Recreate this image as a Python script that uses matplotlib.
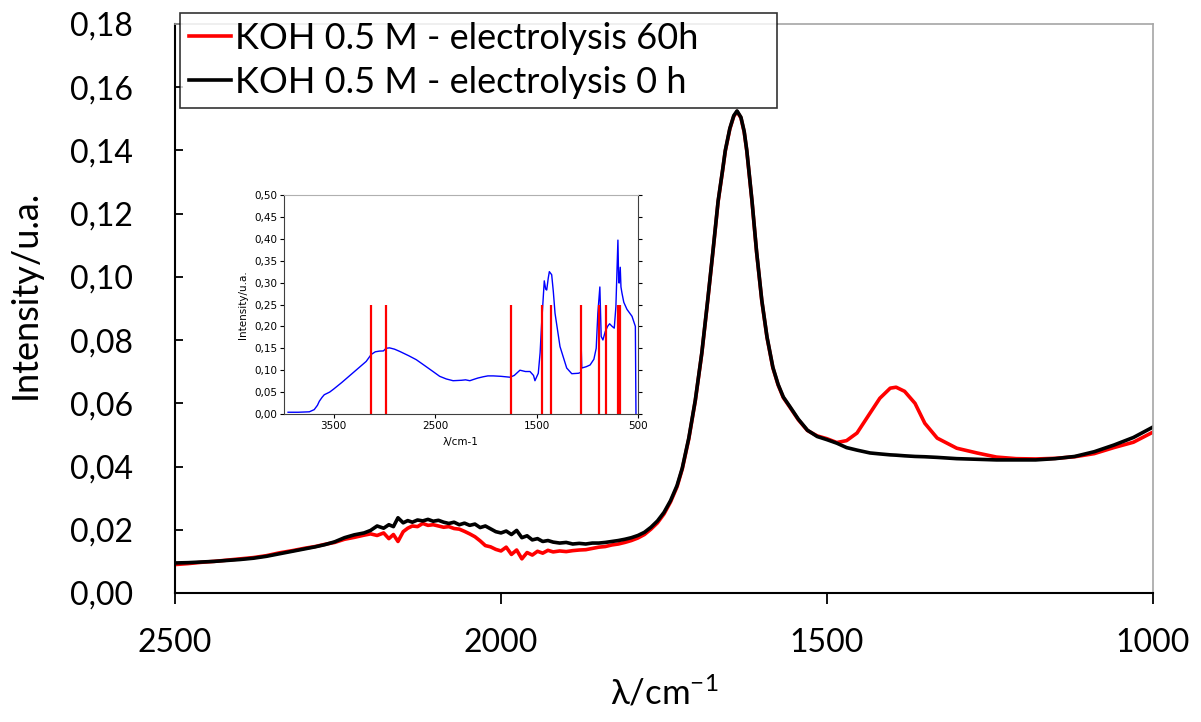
import matplotlib
matplotlib.use("Agg")
import matplotlib.pyplot as plt
from matplotlib.ticker import FuncFormatter

plt.rcParams['font.family'] = ['Lato', 'DejaVu Sans']
plt.rcParams['mathtext.fontset'] = 'custom'
plt.rcParams['mathtext.rm'] = 'Lato'
plt.rcParams['mathtext.default'] = 'regular'

# Raman spectra, KOH 0.5 M before / after electrolysis
wavenumber = [2500, 2480, 2460, 2440, 2420, 2400, 2380, 2360, 2340, 2320,
              2300, 2285, 2270, 2255, 2240, 2225, 2210, 2200, 2190, 2180,
              2172, 2165, 2158, 2150, 2143, 2136, 2128, 2120, 2112, 2104,
              2096, 2088, 2080, 2072, 2064, 2056, 2048, 2040, 2032, 2024,
              2016, 2008, 2000, 1992, 1984, 1976, 1968, 1960, 1952, 1944,
              1936, 1928, 1920, 1910, 1900, 1890, 1880, 1870, 1860, 1850,
              1840, 1830, 1820, 1810, 1800, 1790, 1780, 1770, 1760, 1750,
              1740, 1730, 1722, 1712, 1702, 1692, 1683, 1675, 1667, 1660,
              1656, 1649, 1643, 1638, 1632, 1627, 1623, 1615, 1608, 1600,
              1592, 1583, 1575, 1567, 1557, 1544, 1530, 1515, 1500, 1485,
              1470, 1454, 1434, 1419, 1403, 1394, 1381, 1365, 1350, 1331,
              1301, 1270, 1240, 1210, 1180, 1150, 1120, 1090, 1060, 1030,
              1000]

koh_0h = [0.0095, 0.0096, 0.0098, 0.0100, 0.0103, 0.0106, 0.0110, 0.0116, 0.0124, 0.0132,
          0.0140, 0.0146, 0.0153, 0.0162, 0.0175, 0.0184, 0.0190, 0.0198, 0.0212, 0.0205,
          0.0216, 0.0210, 0.0238, 0.0222, 0.0229, 0.0224, 0.0231, 0.0228, 0.0233, 0.0227,
          0.0230, 0.0224, 0.0220, 0.0224, 0.0216, 0.0221, 0.0214, 0.0218, 0.0207, 0.0212,
          0.0203, 0.0194, 0.0190, 0.0196, 0.0185, 0.0198, 0.0175, 0.0181, 0.0168, 0.0172,
          0.0163, 0.0166, 0.0161, 0.0158, 0.0160, 0.0155, 0.0157, 0.0155, 0.0158, 0.0158,
          0.0160, 0.0163, 0.0166, 0.0170, 0.0175, 0.0182, 0.0192, 0.0208, 0.0228, 0.0255,
          0.0292, 0.0340, 0.0395, 0.0490, 0.0610, 0.0760, 0.0926, 0.1080, 0.1240, 0.1340,
          0.1400, 0.1470, 0.1510, 0.1525, 0.1505, 0.1460, 0.1400, 0.1240, 0.1080, 0.0926,
          0.0810, 0.0714, 0.0660, 0.0620, 0.0590, 0.0550, 0.0515, 0.0495, 0.0485, 0.0474,
          0.0460, 0.0452, 0.0443, 0.0440, 0.0437, 0.0436, 0.0434, 0.0432, 0.0431, 0.0429,
          0.0425, 0.0423, 0.0421, 0.0421, 0.0421, 0.0425, 0.0432, 0.0447, 0.0468, 0.0492,
          0.0525]

koh_60h = [0.0090, 0.0093, 0.0097, 0.0100, 0.0104, 0.0108, 0.0112, 0.0118, 0.0127, 0.0134,
           0.0142, 0.0147, 0.0154, 0.0160, 0.0170, 0.0176, 0.0183, 0.0187, 0.0182, 0.0190,
           0.0172, 0.0185, 0.0163, 0.0194, 0.0205, 0.0212, 0.0210, 0.0220, 0.0214, 0.0216,
           0.0212, 0.0208, 0.0210, 0.0204, 0.0202, 0.0195, 0.0187, 0.0178, 0.0165, 0.0150,
           0.0146, 0.0138, 0.0133, 0.0145, 0.0122, 0.0136, 0.0108, 0.0128, 0.0120, 0.0132,
           0.0126, 0.0135, 0.0130, 0.0133, 0.0131, 0.0134, 0.0136, 0.0137, 0.0141, 0.0145,
           0.0147, 0.0152, 0.0155, 0.0160, 0.0166, 0.0174, 0.0185, 0.0202, 0.0222, 0.0250,
           0.0288, 0.0336, 0.0392, 0.0487, 0.0608, 0.0758, 0.0924, 0.1078, 0.1238, 0.1338,
           0.1398, 0.1468, 0.1508, 0.1523, 0.1503, 0.1458, 0.1398, 0.1238, 0.1078, 0.0924,
           0.0808, 0.0712, 0.0658, 0.0618, 0.0588, 0.0548, 0.0514, 0.0497, 0.0488, 0.0476,
           0.0482, 0.0506, 0.0569, 0.0616, 0.0648, 0.0651, 0.0638, 0.0600, 0.0537, 0.0490,
           0.0458, 0.0443, 0.0430, 0.0425, 0.0424, 0.0426, 0.0431, 0.0441, 0.0460, 0.0477,
           0.0509]

# inset: full reference spectrum and band positions
inset_wn = [3950, 3850, 3740, 3692, 3660, 3642, 3615, 3593, 3540, 3500,
            3420, 3345, 3260, 3180, 3130, 3090, 3049, 3010, 2983, 2950,
            2900, 2850, 2760, 2686, 2600, 2521, 2455, 2390, 2323, 2240,
            2200, 2158, 2120, 2080, 2026, 1980, 1927, 1850, 1763, 1720,
            1664, 1610, 1565, 1530, 1516, 1483, 1465, 1450, 1424, 1410,
            1400, 1385, 1374, 1351, 1335, 1318, 1269, 1203, 1153, 1087,
            1064, 1061, 1054, 1010, 972, 935, 912, 896, 876, 863,
            846, 823, 800, 780, 755, 734, 718, 698, 690, 685,
            675, 668, 658, 640, 609, 559, 526, 520]
inset_int = [0.004, 0.004, 0.005, 0.010, 0.020, 0.029, 0.038, 0.044, 0.050, 0.057,
             0.072, 0.087, 0.104, 0.120, 0.136, 0.142, 0.1436, 0.144, 0.150, 0.151,
             0.148, 0.143, 0.133, 0.124, 0.110, 0.097, 0.086, 0.080, 0.076, 0.077,
             0.078, 0.076, 0.079, 0.082, 0.085, 0.087, 0.087, 0.086, 0.084, 0.088,
             0.100, 0.097, 0.097, 0.088, 0.076, 0.093, 0.140, 0.207, 0.304, 0.285,
             0.283, 0.310, 0.325, 0.318, 0.280, 0.230, 0.154, 0.105, 0.092, 0.093,
             0.095, 0.162, 0.105, 0.108, 0.112, 0.125, 0.150, 0.230, 0.290, 0.177,
             0.169, 0.188, 0.200, 0.206, 0.200, 0.196, 0.245, 0.397, 0.300, 0.299,
             0.335, 0.290, 0.276, 0.255, 0.239, 0.223, 0.200, 0.000]
band_positions = [3131, 2989, 1753, 1450, 1357, 1064, 882, 817, 701, 675]
band_height = 0.25


def comma_fmt(v, pos):
    return f"{v:.2f}".replace(".", ",")


W, H = 1201, 722
fig = plt.figure(figsize=(W / 100, H / 100), dpi=100)
ax = fig.add_axes([175 / W, 1 - 593 / H, 978 / W, 569 / H])

ax.plot(wavenumber, koh_60h, color='#ff0000', lw=2.6, label='KOH 0.5 M - electrolysis 60h')
ax.plot(wavenumber, koh_0h, color='black', lw=2.6, label='KOH 0.5 M - electrolysis 0 h')

ax.set_xlim(2500, 1000)
ax.set_ylim(0, 0.18)
ax.set_xticks([2500, 2000, 1500, 1000])
ax.set_yticks([0, 0.02, 0.04, 0.06, 0.08, 0.10, 0.12, 0.14, 0.16, 0.18])
ax.yaxis.set_major_formatter(FuncFormatter(comma_fmt))
ax.tick_params(axis='y', direction='in', length=6, width=1.3, labelsize=23, pad=30)
ax.tick_params(axis='x', direction='out', length=8, width=1.3, labelsize=23, pad=17)

for side in ('left', 'bottom'):
    ax.spines[side].set_color('black')
    ax.spines[side].set_linewidth(1.5)
for side in ('top', 'right'):
    ax.spines[side].set_color('#a6a6a6')
    ax.spines[side].set_linewidth(1.2)

ax.set_ylabel('Intensity/u.a.', fontsize=26)
ax.yaxis.set_label_coords(-0.136, 0.525)
ax.set_xlabel(r'λ/cm$^{-1}$', fontsize=25)
ax.xaxis.set_label_coords(0.5, -0.145)

leg = ax.legend(loc='upper left', bbox_to_anchor=(180 / W, 1 - 108 / H, 597 / W, 95 / H),
                bbox_transform=fig.transFigure, mode='expand', fontsize=26,
                frameon=True, fancybox=False, handlelength=1.15, handletextpad=0.12,
                borderpad=0.25, labelspacing=0.3, borderaxespad=0)
leg.get_frame().set_edgecolor('black')
leg.get_frame().set_linewidth(1.2)
leg.set_zorder(5)

# inset
ins = fig.add_axes([284 / W, 1 - 414 / H, 354 / W, 219 / H])
ins.plot(inset_wn, inset_int, color='#0000ff', lw=1.0)
ins.vlines(band_positions, 0, band_height, color='#ff0000', lw=1.6)
ins.set_xlim(3990, 500)
ins.set_ylim(0, 0.5)
ins.set_xticks([3500, 2500, 1500, 500])
ins.set_yticks([0, 0.05, 0.10, 0.15, 0.20, 0.25, 0.30, 0.35, 0.40, 0.45, 0.50])
ins.yaxis.set_major_formatter(FuncFormatter(comma_fmt))
ins.tick_params(axis='both', direction='out', length=3, width=0.8, labelsize=7.5,
                labelfontfamily='DejaVu Sans', pad=2)
ins.tick_params(axis='y', right=True)
for side in ('left', 'bottom', 'right'):
    ins.spines[side].set_color('#404040')
    ins.spines[side].set_linewidth(0.8)
ins.spines['top'].set_color('#b0b0b0')
ins.spines['top'].set_linewidth(0.8)
ins.set_xlabel('λ/cm-1', fontsize=7.5, family='DejaVu Sans', labelpad=4)
ins.set_ylabel('Intensity/u.a.', fontsize=7.5, family='DejaVu Sans', labelpad=4)

fig.savefig('out.png', dpi=100)
